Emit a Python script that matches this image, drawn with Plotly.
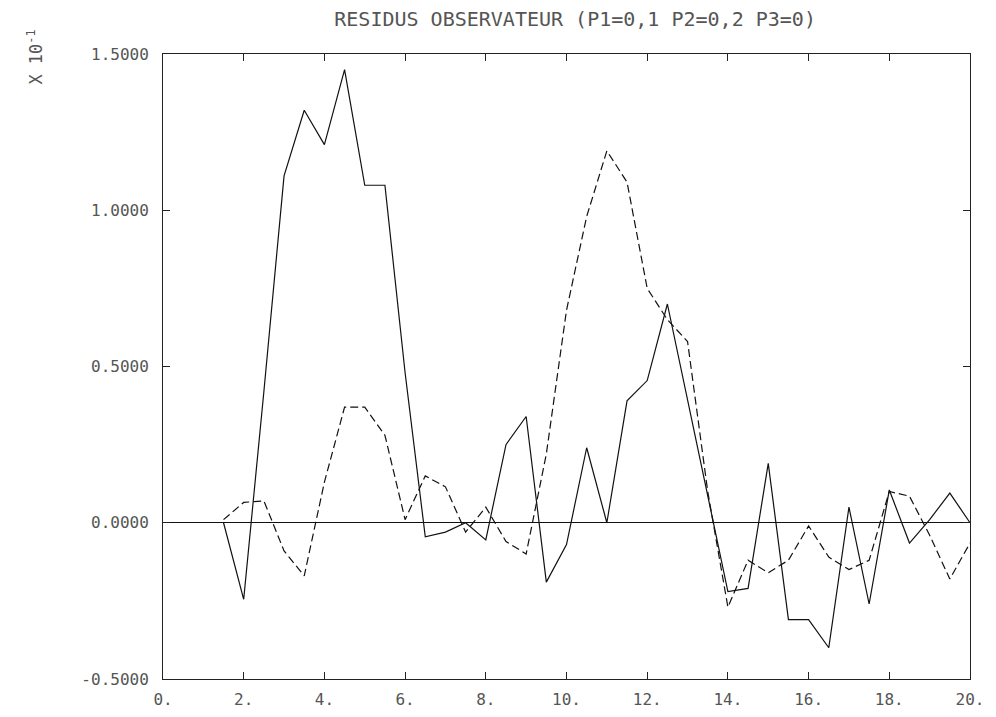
import plotly.graph_objects as go

# sample abscissae
x_vals = [1.5, 2.0, 2.5, 3.0, 3.5, 4.0, 4.5, 5.0, 5.5, 6.0, 6.5, 7.0, 7.5, 8.0,
          8.5, 9.0, 9.5, 10.0, 10.5, 11.0, 11.5, 12.0, 12.5, 13.0, 13.5, 14.0,
          14.5, 15.0, 15.5, 16.0, 16.5, 17.0, 17.5, 18.0, 18.5, 19.0, 19.5, 20.0]

# residual 1 (solid), units of 10^-1
res_1 = [0.0, -0.245, 0.42, 1.11, 1.32, 1.21, 1.45, 1.08, 1.08, 0.48, -0.045,
         -0.03, 0.0, -0.055, 0.25, 0.34, -0.19, -0.07, 0.24, 0.0, 0.39, 0.455,
         0.70, 0.39, 0.08, -0.22, -0.21, 0.19, -0.31, -0.31, -0.40, 0.05, -0.26,
         0.105, -0.065, 0.01, 0.095, 0.0]

# residual 2 (dashed)
res_2 = [0.01, 0.065, 0.07, -0.09, -0.17, 0.13, 0.37, 0.37, 0.28, 0.01, 0.15,
         0.115, -0.03, 0.05, -0.06, -0.10, 0.22, 0.68, 0.98, 1.19, 1.09, 0.75,
         0.65, 0.58, 0.10, -0.27, -0.12, -0.16, -0.12, -0.01, -0.11, -0.15,
         -0.12, 0.10, 0.085, -0.04, -0.18, -0.065]

x_ticks = [0, 2, 4, 6, 8, 10, 12, 14, 16, 18, 20]
x_tick_labels = ["0.", "2.", "4.", "6.", "8.", "10.", "12.", "14.", "16.", "18.", "20."]
y_ticks = [-0.5, 0.0, 0.5, 1.0, 1.5]
y_tick_labels = ["-0.5000", "0.0000", "0.5000", "1.0000", "1.5000"]

title_text = "RESIDUS OBSERVATEUR (P1=0,1 P2=0,2 P3=0)"

fig = go.Figure()
fig.add_trace(go.Scatter(x=x_vals, y=res_1, mode="lines",
                         line=dict(color="#111111", width=1.2), showlegend=False))
fig.add_trace(go.Scatter(x=x_vals, y=res_2, mode="lines",
                         line=dict(color="#111111", width=1.2, dash="8px,4px"),
                         showlegend=False))

mono = "DejaVu Sans Mono"
fig.update_layout(
    width=988, height=709,
    margin=dict(l=155, r=26, t=46, b=38, autoexpand=False),
    paper_bgcolor="white", plot_bgcolor="white",
    title=dict(text=title_text, x=0.574, xanchor="center", y=0.994, yanchor="top",
               font=dict(family=mono, size=20, color="#555555")),
    xaxis=dict(range=[0, 20], tickvals=x_ticks, ticktext=x_tick_labels,
               showgrid=False, zeroline=False, showline=True, mirror="ticks",
               linecolor="#222222", linewidth=1, ticks="inside", ticklen=7,
               tickcolor="#222222", ticklabelstandoff=6, automargin=False,
               tickfont=dict(family=mono, size=16, color="#555555")),
    yaxis=dict(range=[-0.5, 1.5], tickvals=y_ticks, ticktext=y_tick_labels,
               showgrid=False, zeroline=True, zerolinecolor="#111111", zerolinewidth=1,
               showline=True, mirror="ticks", linecolor="#222222", linewidth=1,
               ticks="inside", ticklen=7, tickcolor="#222222",
               ticklabelstandoff=10, automargin=False,
               tickfont=dict(family=mono, size=16, color="#555555")),
    annotations=[dict(text="X 10<sup>-1</sup>", xref="paper", yref="paper",
                      x=-0.158, y=0.995, xanchor="center", yanchor="middle",
                      textangle=-90, showarrow=False,
                      font=dict(family=mono, size=17, color="#555555"))],
)

fig.write_html("out.html")
